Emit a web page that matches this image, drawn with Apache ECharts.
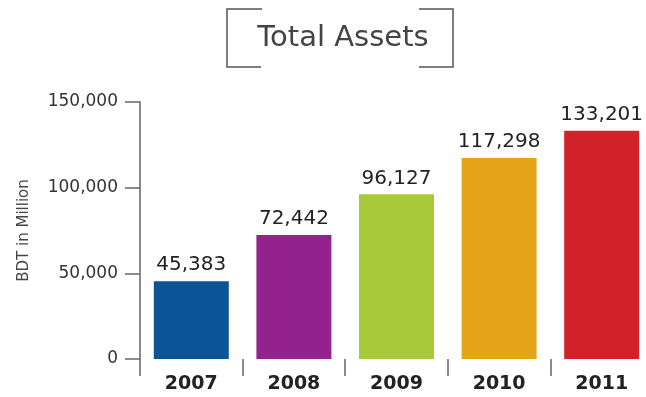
<!DOCTYPE html>
<html>
<head>
<meta charset="utf-8">
<style>
  html, body { margin: 0; padding: 0; background: #ffffff; }
  #chart { width: 646px; height: 397px; }
</style>
<script src="https://cdn.jsdelivr.net/npm/echarts@6/dist/echarts.min.js"></script>
</head>
<body>
<div id="chart"></div>
<script>
// Total assets by year, BDT in million
const years = ['2007', '2008', '2009', '2010', '2011'];
const totalAssets = [45383, 72442, 96127, 117298, 133201];
const barColors = ['#0b5596', '#93228f', '#a8ca38', '#e4a418', '#d3212a'];
const yTicks = [0, 50000, 100000, 150000];

const fmt = v => v.toLocaleString('en-US');
const chart = echarts.init(document.getElementById('chart'), null, { renderer: 'canvas' });

const frameStyle = { stroke: '#555', lineWidth: 1.5, fill: null };

chart.setOption({
  backgroundColor: '#ffffff',
  animation: false,
  title: {
    text: 'Total Assets',
    left: 338,
    top: 19,
    textAlign: 'center',
    textStyle: { fontFamily: 'DejaVu Sans', fontSize: 29, fontWeight: 'normal', color: '#444' }
  },
  graphic: [
    { type: 'polyline', shape: { points: [[262, 9], [227, 9], [227, 67], [261, 67]] }, style: frameStyle },
    { type: 'polyline', shape: { points: [[419, 9], [453, 9], [453, 67], [419, 67]] }, style: frameStyle }
  ],
  grid: { left: 140, right: -7, top: 102, bottom: 38, outerBoundsMode: 'none' },
  xAxis: {
    type: 'category',
    data: years,
    axisLine: { show: false },
    axisTick: { show: true, length: 17, lineStyle: { color: '#666', width: 1.5 } },
    axisLabel: { margin: 16, fontFamily: 'DejaVu Sans', fontSize: 19, fontWeight: 'bold', color: '#222' }
  },
  yAxis: {
    type: 'value',
    min: yTicks[0],
    max: yTicks[yTicks.length - 1],
    interval: yTicks[1] - yTicks[0],
    name: 'BDT in Million',
    nameLocation: 'middle',
    nameGap: 108,
    nameTextStyle: { fontFamily: 'DejaVu Sans', fontSize: 15, color: '#444' },
    axisLine: { show: true, lineStyle: { color: '#666', width: 1.5 } },
    axisTick: { show: true, length: 15, lineStyle: { color: '#666', width: 1.5 } },
    splitLine: { show: false },
    axisLabel: { margin: 22, fontFamily: 'DejaVu Sans', fontSize: 17, color: '#333', formatter: fmt }
  },
  series: [{
    type: 'bar',
    barWidth: 75,
    data: totalAssets.map((v, i) => ({ value: v, itemStyle: { color: barColors[i] } })),
    label: {
      show: true,
      position: 'top',
      distance: 6,
      fontFamily: 'DejaVu Sans',
      fontSize: 20,
      color: '#222',
      formatter: p => fmt(p.value)
    }
  }]
});
</script>
</body>
</html>
